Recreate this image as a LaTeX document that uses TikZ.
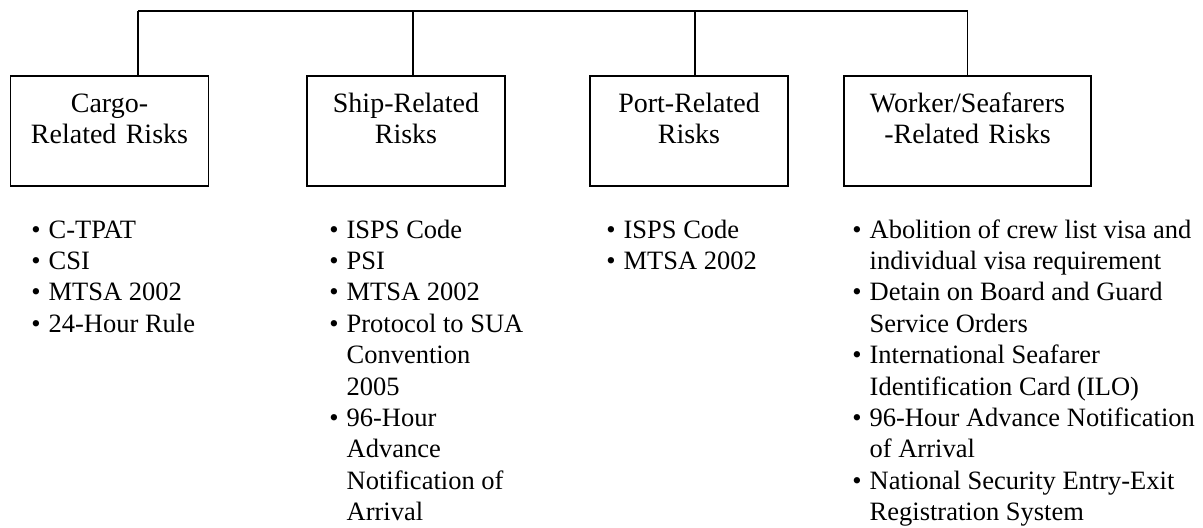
\documentclass[tikz,border=0pt]{standalone}
\usepackage{fontspec}
\setmainfont{Liberation Serif}
\usetikzlibrary{positioning}

\begin{document}
\begin{tikzpicture}[x=0.5pt, y=-0.5pt,
        box/.style={rectangle, draw, line width=0.8pt, text width=99pt, align=center, inner xsep=0pt, inner ysep=0pt, text height=18.5pt, text depth=36.5pt, anchor=north, font=\fontsize{14}{15.3}\selectfont},
        items/.style={anchor=base west, inner sep=0pt, font=\fontsize{13.25}{15.7}\selectfont},
        link/.style={line width=0.8pt}
    ]
        \useasboundingbox (0,0) rectangle (1203,527);

        % Risk boxes
        \node[box] (cargo) at (109.5,75) {Cargo-\\Related Risks};
        \node[box] (ship) at (406,75) {Ship-Related\\Risks};
        \node[box] (port) at (689,75) {Port-Related\\Risks};
        \node[box, text width=123.5pt] (worker) at (967.5,75) {Worker/Seafarers\\-Related Risks};

        % Top bus
        \coordinate (tapcargo) at (138,11);
        \coordinate (tapship) at (413,11);
        \coordinate (tapport) at (695,11);
        \coordinate (tapworker) at (967.5,11);
        \draw[link] (tapcargo) -- (tapworker);
        \draw[link] (tapcargo) -- (tapcargo |- cargo.north);
        \draw[link] (tapship) -- (tapship |- ship.north);
        \draw[link] (tapport) -- (tapport |- port.north);
        \draw[link] (tapworker) -- (worker.north);

        % Measures under each box
        \node[items] (cargolist) at (31,238) {\begin{tabular}[t]{@{}l@{\hspace{4pt}}l@{}}
            \textbullet & C-TPAT\\
            \textbullet & CSI\\
            \textbullet & MTSA 2002\\
            \textbullet & 24-Hour Rule
        \end{tabular}};
        \node[items] (shiplist) at (329,238) {\begin{tabular}[t]{@{}l@{\hspace{4pt}}l@{}}
            \textbullet & ISPS Code\\
            \textbullet & PSI\\
            \textbullet & MTSA 2002\\
            \textbullet & Protocol to SUA\\
                        & Convention\\
                        & 2005\\
            \textbullet & 96-Hour\\
                        & Advance\\
                        & Notification of\\
                        & Arrival
        \end{tabular}};
        \node[items] (portlist) at (606,238) {\begin{tabular}[t]{@{}l@{\hspace{4pt}}l@{}}
            \textbullet & ISPS Code\\
            \textbullet & MTSA 2002
        \end{tabular}};
        \node[items] (workerlist) at (852,238) {\begin{tabular}[t]{@{}l@{\hspace{4pt}}l@{}}
            \textbullet & Abolition of crew list visa and\\
                        & individual visa requirement\\
            \textbullet & Detain on Board and Guard\\
                        & Service Orders\\
            \textbullet & International Seafarer\\
                        & Identification Card (ILO)\\
            \textbullet & 96-Hour Advance Notification\\
                        & of Arrival\\
            \textbullet & National Security Entry-Exit\\
                        & Registration System
        \end{tabular}};
    \end{tikzpicture}
\end{document}
